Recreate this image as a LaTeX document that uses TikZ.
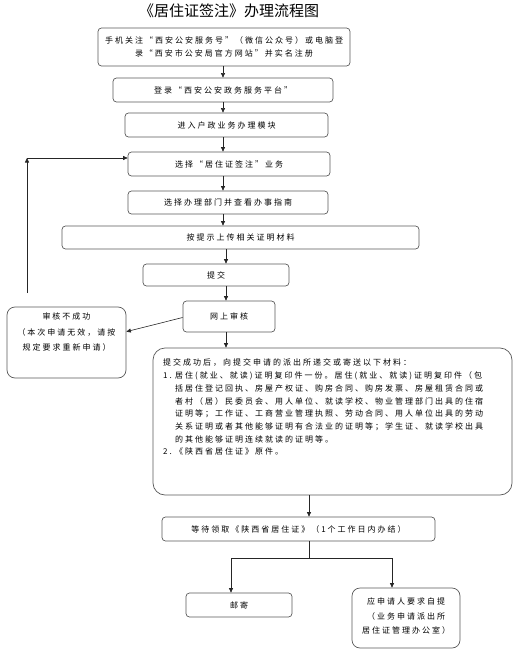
\documentclass[tikz,border=0pt]{standalone}
\usepackage{fontspec}
\setmainfont{Noto Sans CJK SC}
\newfontfamily\cjk[LetterSpace=25]{Noto Sans CJK SC}
\usetikzlibrary{arrows.meta}
\begin{document}
\begin{tikzpicture}[x=1pt,y=-1pt,
  box/.style={draw=black!65, line width=0.7pt, rounded corners=3.5pt, inner sep=0pt, align=center, font=\cjk\fontsize{8}{13}\selectfont},
  txt/.style={inner sep=0pt, font=\cjk\fontsize{8}{13}\selectfont},
  arr/.style={-{Triangle[length=4.5pt,width=4pt]}, line width=0.6pt, black!85},
  ln/.style={line width=0.6pt, black!85}]
\useasboundingbox (0,0) rectangle (519,650);
\node[font=\fontsize{15}{18}\selectfont, inner sep=0pt] (title) at (229,11) {《居住证签注》办理流程图};
\node[box, minimum width=252pt, minimum height=38pt] (b1) at (224,47) {手机关注“西安公安服务号”（微信公众号）或电脑登\\录“西安市公安局官方网站”并实名注册};
\node[box, minimum width=220pt, minimum height=24pt] (b2) at (223,90) {登录“西安公安政务服务平台”};
\node[box, minimum width=203pt, minimum height=24pt] (b3) at (226.5,125) {进入户政业务办理模块};
\node[box, minimum width=202pt, minimum height=24pt] (b4) at (229,164) {选择“居住证签注”业务};
\node[box, minimum width=200pt, minimum height=23pt] (b5) at (228,202.5) {选择办理部门并查看办事指南};
\node[box, minimum width=357pt, minimum height=23pt] (b6) at (240.5,237.5) {按提示上传相关证明材料};
\node[box, minimum width=146pt, minimum height=22pt] (b7) at (216,275) {提交};
\node[box, minimum width=92pt, minimum height=31pt] (b8) at (229,316.5) {网上审核};
\node[box, rounded corners=8pt, minimum width=119pt, minimum height=71pt] (fail) at (66.5,342.5) {};
\node[txt, anchor=north, align=center, font=\cjk\fontsize{8}{15.5}\selectfont] (failtxt) at (66.5,313) {审核不成功\\（本次申请无效，请按\\规定要求重新申请）};
\node[box, rounded corners=12pt, minimum width=359pt, minimum height=147pt] (big) at (332.5,421.5) {};
\node[txt, anchor=north west, align=left, font=\cjk\fontsize{8}{12.7}\selectfont] (bigtxt) at (163,359) {%
提交成功后，向提交申请的派出所递交或寄送以下材料：\\
\makebox[12pt][l]{1.}居住(就业、就读)证明复印件一份。居住(就业、就读)证明复印件（包\\
\hspace*{12pt}括居住登记回执、房屋产权证、购房合同、购房发票、房屋租赁合同或\\
\hspace*{12pt}者村（居）民委员会、用人单位、就读学校、物业管理部门出具的住宿\\
\hspace*{12pt}证明等；工作证、工商营业管理执照、劳动合同、用人单位出具的劳动\\
\hspace*{12pt}关系证明或者其他能够证明有合法业的证明等；学生证、就读学校出具\\
\hspace*{12pt}的其他能够证明连续就读的证明等。\\
\makebox[12pt][l]{2.}《陕西省居住证》原件。};
\node[box, minimum width=273pt, minimum height=24pt] (wait) at (298.5,529) {等待领取《陕西省居住证》（1个工作日内办结）};
\node[box, minimum width=106pt, minimum height=24pt] (mail) at (239,605) {邮寄};
\node[box, rounded corners=8pt, minimum width=108pt, minimum height=60pt] (self) at (406,618) {};
\node[txt, anchor=north, align=center, font=\cjk\fontsize{8}{14.5}\selectfont] (selftxt) at (406,598) {应申请人要求自提\\（业务申请派出所\\居住证管理办公室）};
% connectors
\coordinate (cA) at (223,0);
\coordinate (cB) at (226,0);
\coordinate (cC) at (309,0);
\draw[arr] (b1.south -| cA) -- (b2.north -| cA);
\draw[arr] (b2.south -| cA) -- (b3.north -| cA);
\draw[arr] (b3.south -| cA) -- (b4.north -| cA);
\draw[arr] (b4.south -| cA) -- (b5.north -| cA);
\draw[arr] (b5.south -| cA) -- (b6.north -| cA);
\draw[arr] (b6.south -| cB) -- (b7.north -| cB);
\draw[arr] (b7.south -| cB) -- (b8.north -| cB);
\draw[arr] (b8.south -| cB) -- (big.north -| cB);
\draw[arr] ([yshift=-1pt]b8.west) -- ([yshift=-25pt]fail.north east);
\coordinate (fb1) at (27,293);
\coordinate (fb2) at (27,158);
\draw[arr] (fb1) -- (fb2);
\draw[arr] (fb2) -- (b4.west |- fb2);
\draw[arr] (big.south -| cC) -- (wait.north -| cC);
\coordinate (sp) at (309,558);
\coordinate (spL) at (231,558);
\coordinate (spR) at (392,558);
\draw[ln] (wait.south -| sp) -- (sp);
\draw[ln] (spL) -- (spR);
\draw[arr] (spL) -- (mail.north -| spL);
\draw[arr] (spR) -- (self.north -| spR);
\end{tikzpicture}
\end{document}
